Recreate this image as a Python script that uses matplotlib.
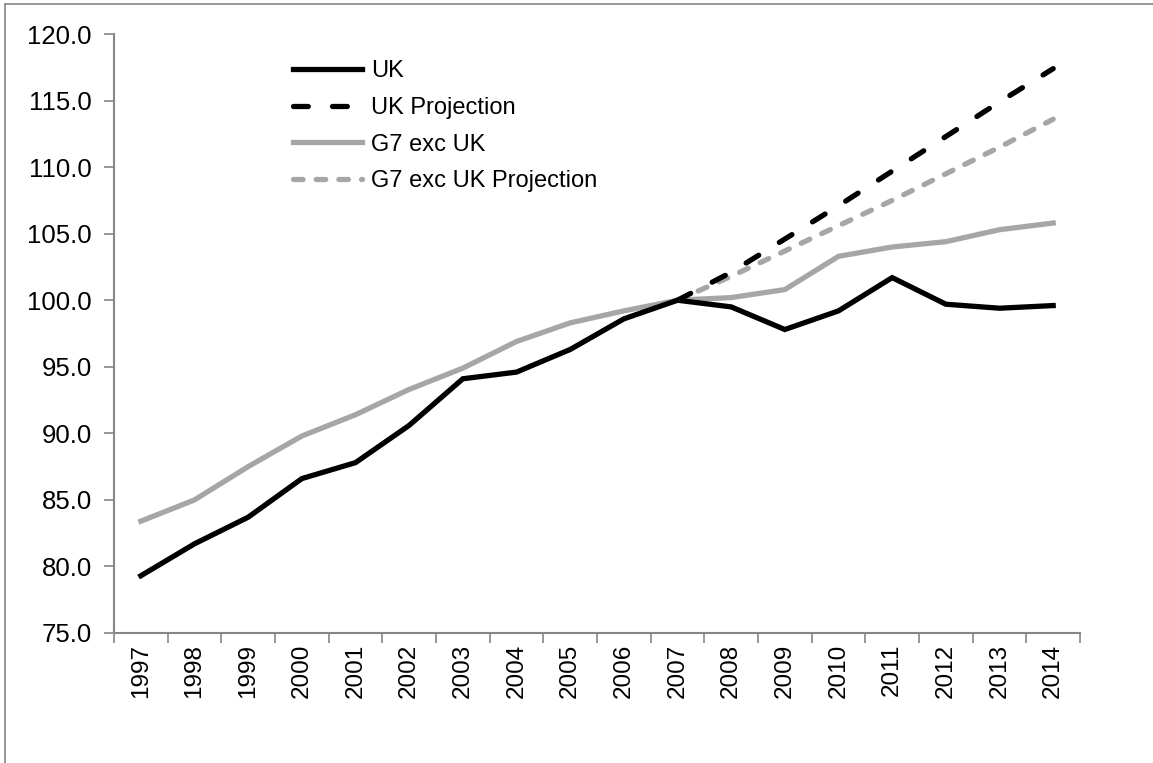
import matplotlib.pyplot as plt
from matplotlib.lines import Line2D

plt.rcParams['font.family'] = ['Liberation Sans', 'DejaVu Sans']

years = [str(y) for y in range(1997, 2015)]
uk = [79.3, 81.7, 83.7, 86.6, 87.8, 90.6, 94.1, 94.6, 96.3, 98.6, 100.0,
      99.5, 97.8, 99.2, 101.7, 99.7, 99.4, 99.6]
g7_exc_uk = [83.4, 85.0, 87.5, 89.8, 91.4, 93.3, 94.9, 96.9, 98.3, 99.2, 100.0,
             100.2, 100.8, 103.3, 104.0, 104.4, 105.3, 105.8]
proj_years = years[10:]
uk_proj = [100.0, 102.1, 104.6, 107.1, 109.7, 112.3, 114.9, 117.4]
g7_proj = [100.0, 101.8, 103.7, 105.6, 107.5, 109.5, 111.5, 113.6]

grey_axis = '#868686'
grey_line = '#a6a6a6'

fig = plt.figure(figsize=(11.53, 7.63), dpi=100)
ax = fig.add_axes([0.0989, 0.1704, 0.8378, 0.785])

x = list(range(len(years)))
px = [years.index(y) for y in proj_years]

ax.plot(x, uk, color='black', lw=3.8, solid_joinstyle='miter', label='UK', zorder=3)
ax.plot(px, uk_proj, color='black', lw=3.8, dashes=(2.8, 4.6),
        dash_capstyle='round', label='UK Projection', zorder=4)
ax.plot(x, g7_exc_uk, color=grey_line, lw=3.8, solid_joinstyle='miter', label='G7 exc UK', zorder=2)
ax.plot(px, g7_proj, color=grey_line, lw=3.8, dashes=(1.8, 2.5),
        dash_capstyle='round', label='G7 exc UK Projection', zorder=2)

ax.set_xlim(-0.5, len(years) - 0.5)
ax.set_ylim(75, 120)
ax.set_yticks([75 + 5 * i for i in range(10)])
ax.set_yticklabels([f'{75 + 5 * i:.1f}' for i in range(10)])

# category ticks sit between years, labels at the centres
ax.set_xticks([i - 0.5 for i in range(len(years) + 1)])
ax.set_xticklabels([])
ax.set_xticks(x, minor=True)
ax.set_xticklabels(years, minor=True, rotation=90)

ax.tick_params(axis='x', which='major', direction='out', length=7, width=1.2, color=grey_axis)
ax.tick_params(axis='x', which='minor', length=0, pad=8, labelsize=17.5)
ax.tick_params(axis='y', direction='out', length=7, width=1.2, color=grey_axis, pad=9, labelsize=18.5)

for side in ['top', 'right']:
    ax.spines[side].set_visible(False)
for side in ['left', 'bottom']:
    ax.spines[side].set_color(grey_axis)
    ax.spines[side].set_linewidth(1.5)

ax.legend(loc='upper left', bbox_to_anchor=(0.1756, 0.972), frameon=False,
          fontsize=17, handlelength=2.9, handletextpad=0.4, labelspacing=0.62,
          borderaxespad=0)

# chart area border (cut at right and bottom edges)
fig.add_artist(Line2D([0.0045, 0.0045], [0.0, 0.9948], transform=fig.transFigure,
                      color=grey_axis, lw=1.2))
fig.add_artist(Line2D([0.0045, 1.0], [0.9948, 0.9948], transform=fig.transFigure,
                      color=grey_axis, lw=1.2))

fig.savefig('out.png', dpi=100)
